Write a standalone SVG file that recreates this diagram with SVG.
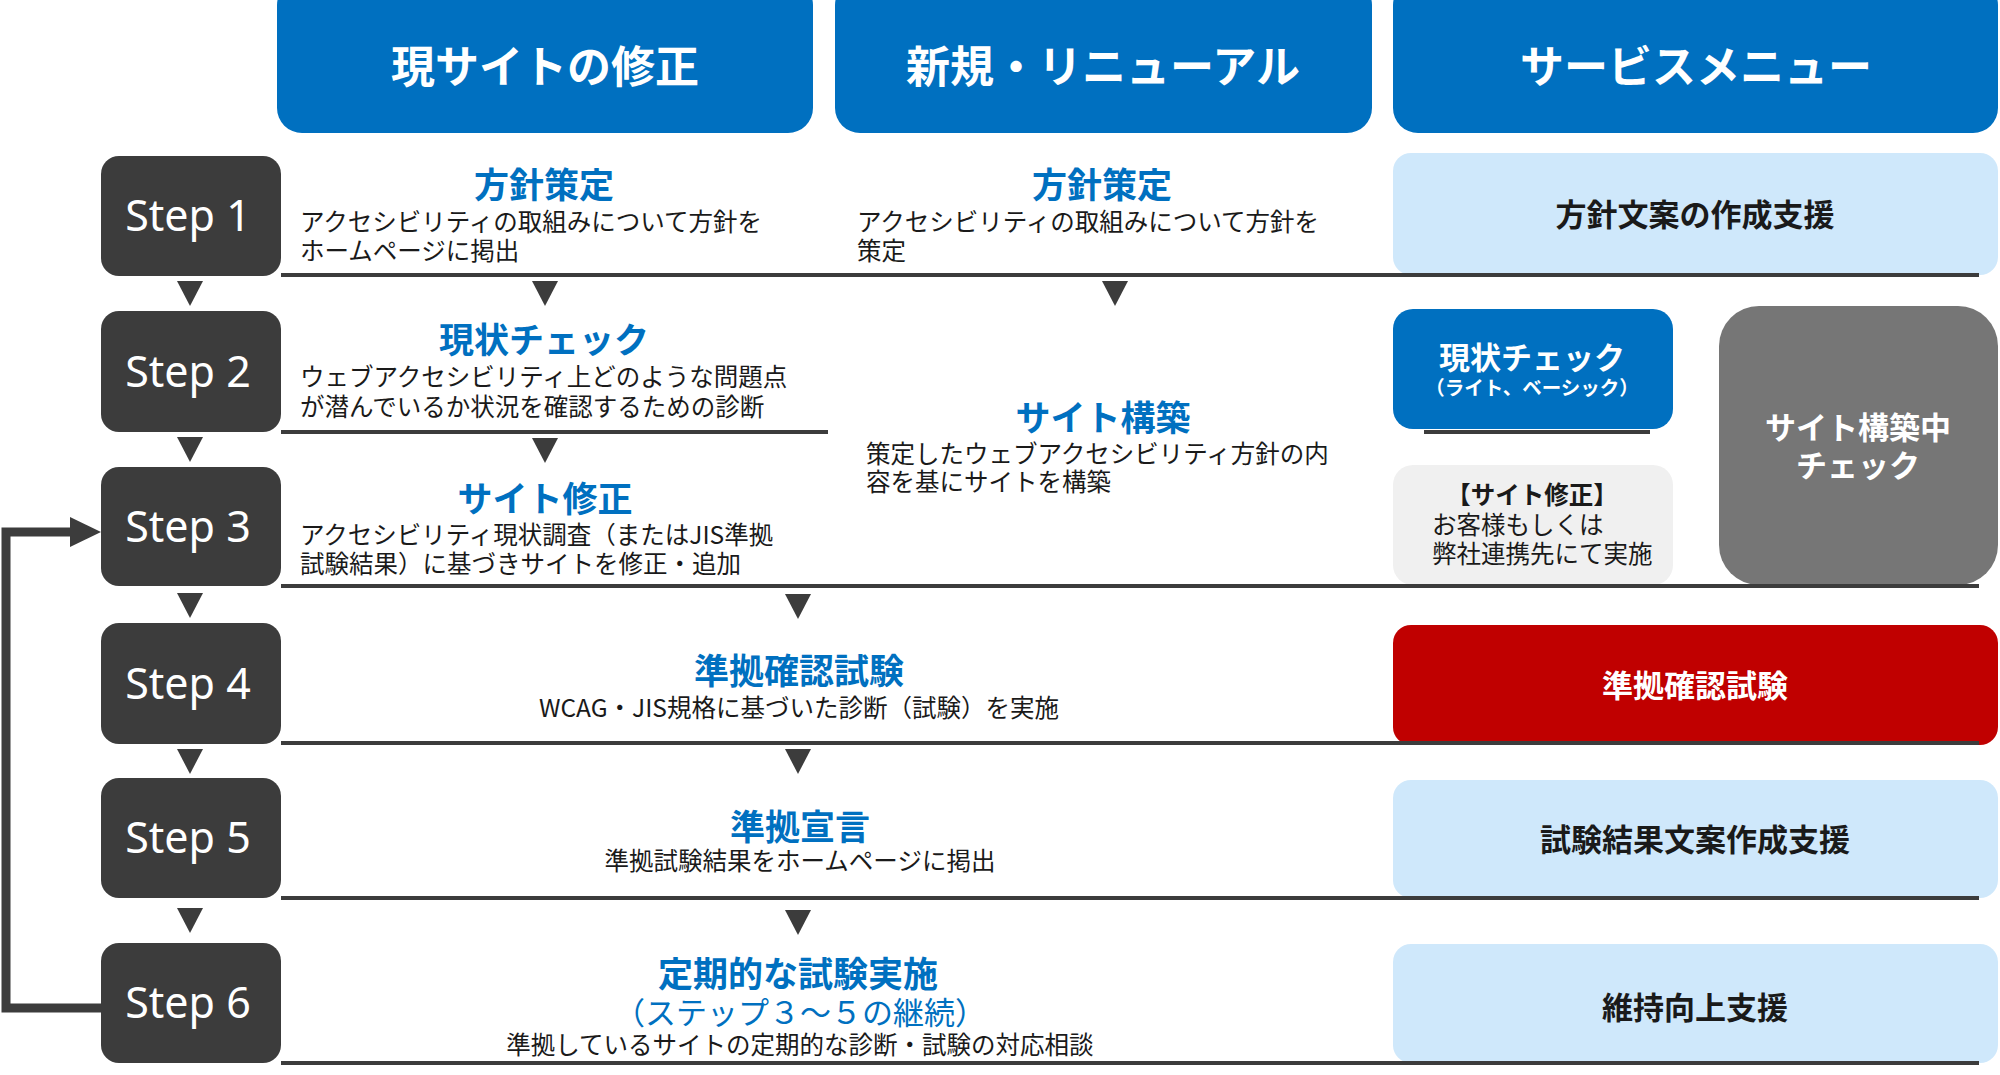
<svg xmlns="http://www.w3.org/2000/svg" width="2000" height="1075" viewBox="0 0 2000 1075">
<style>
.jp{font-family:"Noto Sans CJK JP","Noto Sans",sans-serif}
.hdr{fill:#0070c0}
.hdrt{font-family:"Noto Sans CJK JP",sans-serif;font-weight:700;font-size:44px;fill:#fff;text-anchor:middle}
.step{fill:#3c3c3c}
.stept{font-family:"Noto Sans","Open Sans",sans-serif;font-size:43px;fill:#fff;text-anchor:middle}
.ttl{font-family:"Noto Sans CJK JP",sans-serif;font-weight:700;font-size:35px;fill:#0070c0;text-anchor:middle}
.desc{font-family:"Noto Sans CJK JP",sans-serif;font-size:24.5px;fill:#1a1a1a}
.svc{font-family:"Noto Sans CJK JP",sans-serif;font-weight:700;font-size:31px;fill:#1a1a1a;text-anchor:middle}
.svcw{font-family:"Noto Sans CJK JP",sans-serif;font-weight:700;font-size:31px;fill:#fff;text-anchor:middle}
.lb{fill:#cfe8fb}
.sep{stroke:#3c3c3c;stroke-width:4;fill:none}
.tri{fill:#3c3c3c}
</style>
<defs>
<polygon id="tri" points="-13,0 13,0 0,25"/>
</defs>
<rect width="2000" height="1075" fill="#fff"/>

<g id="header-fix">
<rect class="hdr" x="277" y="-20" width="536" height="153" rx="25"/>
<text class="hdrt" x="545" y="83">現サイトの修正</text>
</g>
<g id="header-new">
<rect class="hdr" x="835" y="-20" width="537" height="153" rx="25"/>
<text class="hdrt" x="1103" y="83">新規・リニューアル</text>
</g>
<g id="header-service">
<rect class="hdr" x="1393" y="-20" width="605" height="153" rx="25"/>
<text class="hdrt" x="1696" y="83">サービスメニュー</text>
</g>

<g id="step1"><rect class="step" x="101" y="156" width="180" height="120" rx="18"/><text class="stept" x="188" y="231">Step 1</text></g>
<g id="step2"><rect class="step" x="101" y="311" width="180" height="121" rx="18"/><text class="stept" x="188" y="387">Step 2</text></g>
<g id="step3"><rect class="step" x="101" y="467" width="180" height="119" rx="18"/><text class="stept" x="188" y="542">Step 3</text></g>
<g id="step4"><rect class="step" x="101" y="623" width="180" height="121" rx="18"/><text class="stept" x="188" y="699">Step 4</text></g>
<g id="step5"><rect class="step" x="101" y="778" width="180" height="120" rx="18"/><text class="stept" x="188" y="853">Step 5</text></g>
<g id="step6"><rect class="step" x="101" y="943" width="180" height="120" rx="18"/><text class="stept" x="188" y="1018">Step 6</text></g>

<g id="fix-policy">
<text class="ttl" x="544" y="198">方針策定</text>
<text class="desc" x="300" y="231">アクセシビリティの取組みについて方針を<tspan x="300" y="260">ホームページに掲出</tspan></text>
</g>
<g id="new-policy">
<text class="ttl" x="1102" y="198">方針策定</text>
<text class="desc" x="857" y="231">アクセシビリティの取組みについて方針を<tspan x="857" y="260">策定</tspan></text>
</g>
<g id="fix-check">
<text class="ttl" x="544" y="353">現状チェック</text>
<text class="desc" x="300" y="386">ウェブアクセシビリティ上どのような問題点<tspan x="300" y="416">が潜んでいるか状況を確認するための診断</tspan></text>
</g>
<g id="fix-site">
<text class="ttl" x="545" y="512">サイト修正</text>
<text class="desc" x="300" y="544">アクセシビリティ現状調査（またはJIS準拠<tspan x="300" y="573">試験結果）に基づきサイトを修正・追加</tspan></text>
</g>
<g id="new-build">
<text class="ttl" x="1103" y="431">サイト構築</text>
<text class="desc" x="866" y="463">策定したウェブアクセシビリティ方針の内<tspan x="866" y="491">容を基にサイトを構築</tspan></text>
</g>
<g id="conformance-test">
<text class="ttl" x="799" y="684">準拠確認試験</text>
<text class="desc" x="799" y="717" text-anchor="middle">WCAG・JIS規格に基づいた診断（試験）を実施</text>
</g>
<g id="conformance-declaration">
<text class="ttl" x="800" y="840">準拠宣言</text>
<text class="desc" x="800" y="870" text-anchor="middle">準拠試験結果をホームページに掲出</text>
</g>
<g id="periodic-test">
<text class="ttl" x="798" y="987">定期的な試験実施</text>
<text class="jp" x="800" y="1024" text-anchor="middle" font-size="31" fill="#0070c0">（ステップ３～５の継続）</text>
<text class="desc" x="800" y="1054" text-anchor="middle">準拠しているサイトの定期的な診断・試験の対応相談</text>
</g>

<g id="svc-policy">
<rect class="lb" x="1393" y="153" width="605" height="122" rx="18"/>
<text class="svc" x="1695" y="226">方針文案の作成支援</text>
</g>
<g id="svc-check">
<rect fill="#0070c0" x="1393" y="309" width="280" height="120" rx="20"/>
<text class="svcw" x="1532" y="369">現状チェック</text>
<text class="jp" x="1532" y="395" text-anchor="middle" font-size="19.5" font-weight="700" fill="#fff">（ライト、ベーシック）</text>
</g>
<g id="svc-fix">
<rect fill="#f0f0f0" x="1393" y="465" width="280" height="120" rx="20"/>
<text class="desc" x="1532" y="504" text-anchor="middle" font-weight="700">【サイト修正】</text>
<text class="desc" x="1432" y="534">お客様もしくは<tspan x="1432" y="563">弊社連携先にて実施</tspan></text>
</g>
<g id="svc-build-check">
<rect fill="#767676" x="1719" y="306" width="279" height="279" rx="40"/>
<text class="svcw" x="1858" y="439">サイト構築中</text>
<text class="svcw" x="1858" y="477">チェック</text>
</g>
<g id="svc-test">
<rect fill="#c00000" x="1393" y="625" width="605" height="120" rx="18"/>
<text class="svcw" x="1695" y="697">準拠確認試験</text>
</g>
<g id="svc-result">
<rect class="lb" x="1393" y="780" width="605" height="118" rx="18"/>
<text class="svc" x="1695" y="851">試験結果文案作成支援</text>
</g>
<g id="svc-maintain">
<rect class="lb" x="1393" y="944" width="605" height="119" rx="18"/>
<text class="svc" x="1695" y="1019">維持向上支援</text>
</g>

<g id="connectors">
<line class="sep" x1="281" y1="275" x2="1979" y2="275"/>
<line class="sep" x1="281" y1="432" x2="828" y2="432"/>
<line class="sep" x1="1424" y1="432" x2="1650" y2="432"/>
<line class="sep" x1="281" y1="586" x2="1979" y2="586"/>
<line class="sep" x1="281" y1="743" x2="1979" y2="743"/>
<line class="sep" x1="281" y1="898" x2="1979" y2="898"/>
<line class="sep" x1="281" y1="1063" x2="1979" y2="1063"/>
<use href="#tri" class="tri" x="190" y="281"/>
<use href="#tri" class="tri" x="190" y="437"/>
<use href="#tri" class="tri" x="190" y="593"/>
<use href="#tri" class="tri" x="190" y="749"/>
<use href="#tri" class="tri" x="190" y="908"/>
<use href="#tri" class="tri" x="545" y="281"/>
<use href="#tri" class="tri" x="545" y="438"/>
<use href="#tri" class="tri" x="1115" y="281"/>
<use href="#tri" class="tri" x="798" y="594"/>
<use href="#tri" class="tri" x="798" y="749"/>
<use href="#tri" class="tri" x="798" y="910"/>
<path d="M101,1008 H6 V532 H72" fill="none" stroke="#3c3c3c" stroke-width="9"/>
<polygon points="70,517 101,532 70,547" fill="#3c3c3c"/>
</g>
</svg>
